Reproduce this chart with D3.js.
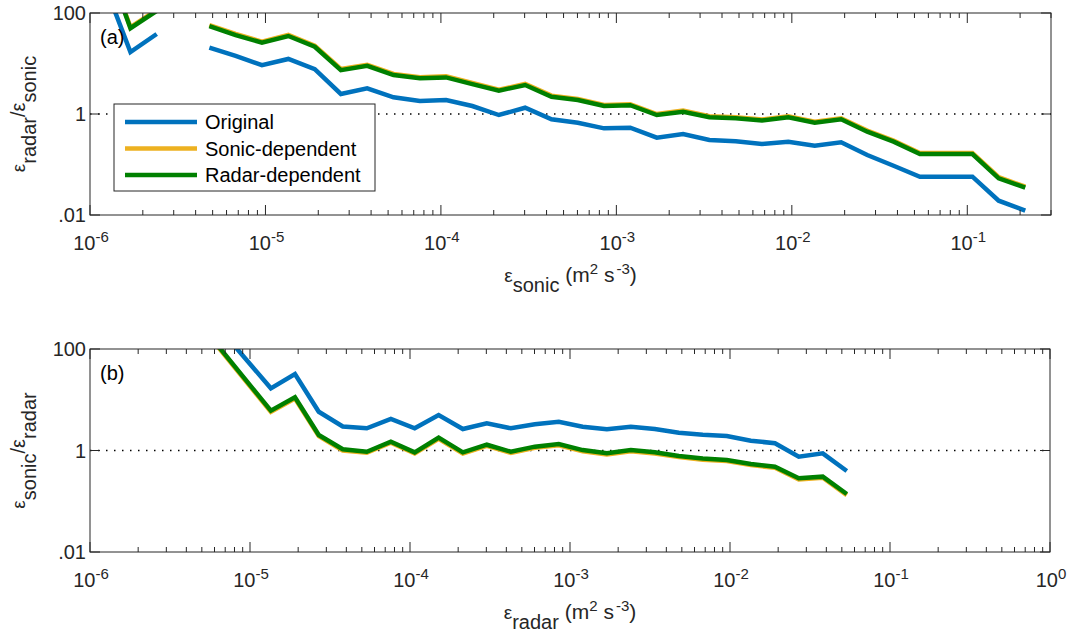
<!DOCTYPE html>
<html>
<head>
<meta charset="utf-8">
<script src="https://cdn.jsdelivr.net/npm/d3@7"></script>
<style>
  body { margin: 0; background: #fff; }
  svg { display: block; font-family: "Liberation Sans", Arial, sans-serif; }
</style>
</head>
<body>
<div id="chart"></div>
<script>
// Panel (a): ratio vs sonic dissipation, binned
var binsA = [1.20e-6, 1.70e-6, 2.40e-6, 3.39e-6, 4.79e-6, 6.76e-6, 9.55e-6, 1.35e-5, 1.91e-5,
  2.69e-5, 3.80e-5, 5.37e-5, 7.59e-5, 1.07e-4, 1.51e-4, 2.14e-4, 3.02e-4, 4.27e-4, 6.03e-4,
  8.51e-4, 1.20e-3, 1.70e-3, 2.40e-3, 3.39e-3, 4.79e-3, 6.76e-3, 9.55e-3, 1.35e-2, 1.91e-2,
  2.69e-2, 3.80e-2, 5.37e-2, 7.59e-2, 0.107, 0.151, 0.214];
var originalA = [400, 16.9, 38.4, null, 20.6, 14.1, 9.3, 12.3, 7.7, 2.49, 3.23, 2.14, 1.81, 1.89,
  1.44, 0.955, 1.33, 0.785, 0.67, 0.52, 0.535, 0.34, 0.40, 0.305, 0.29, 0.255, 0.283, 0.236,
  0.275, 0.154, 0.0946, 0.0573, 0.0573, 0.0573, 0.0192, 0.0122];
var sonicDepA = [1470, 52.5, 115, null, 57.8, 38.4, 27.1, 36.8, 22.6, 7.8, 9.45, 6.2, 5.36, 5.57,
  4.1, 3.03, 3.94, 2.31, 1.98, 1.51, 1.56, 1.0, 1.17, 0.9, 0.86, 0.78, 0.9, 0.70, 0.82, 0.47,
  0.297, 0.169, 0.169, 0.169, 0.056, 0.0364];
var radarDepA = [1400, 50, 110, null, 55, 36.6, 25.8, 35, 21.5, 7.4, 9.0, 5.9, 5.1, 5.3, 3.9,
  2.89, 3.75, 2.2, 1.89, 1.44, 1.49, 0.955, 1.11, 0.86, 0.82, 0.74, 0.86, 0.67, 0.785, 0.447,
  0.283, 0.161, 0.161, 0.161, 0.0533, 0.0347];

// Panel (b): inverse ratio vs radar dissipation
var binsB = [4.79e-6, 1.35e-5, 1.91e-5, 2.69e-5, 3.80e-5, 5.37e-5, 7.59e-5, 1.07e-4, 1.51e-4,
  2.14e-4, 3.02e-4, 4.27e-4, 6.03e-4, 8.51e-4, 1.20e-3, 1.70e-3, 2.40e-3, 3.39e-3, 4.79e-3,
  6.76e-3, 9.55e-3, 1.35e-2, 1.91e-2, 2.69e-2, 3.80e-2, 5.37e-2];
var originalB = [760, 16.8, 32.1, 5.8, 2.97, 2.74, 4.18, 2.74, 5.0, 2.65, 3.44, 2.74, 3.28, 3.69,
  2.94, 2.62, 2.94, 2.65, 2.24, 2.05, 1.93, 1.56, 1.39, 0.755, 0.88, 0.394];
var sonicDepB = [319, 5.78, 10.6, 1.92, 1.0, 0.9, 1.42, 0.874, 1.7, 0.874, 1.24, 0.9, 1.13, 1.27,
  0.97, 0.836, 0.97, 0.874, 0.74, 0.66, 0.62, 0.515, 0.456, 0.27, 0.29, 0.132];
var radarDepB = [336, 6.08, 11.2, 2.02, 1.06, 0.946, 1.49, 0.92, 1.79, 0.92, 1.30, 0.946, 1.19,
  1.34, 1.02, 0.88, 1.02, 0.92, 0.78, 0.695, 0.65, 0.542, 0.48, 0.284, 0.305, 0.139];

var seriesNames = ['Original', 'Sonic-dependent', 'Radar-dependent'];
var seriesColors = ['#0072bd', '#edb120', '#008000'];
var yTickValues = [0.01, 1, 100];
var yTickLabels = ['.01', '1', '100'];

var axisColor = '#262626';
var width = 1067;
var height = 635;

var svg = d3.select('#chart').append('svg')
  .attr('width', width)
  .attr('height', height);

// parts: [{t: text, k: 'sub'|'sup'|undefined, size}]
function richText(sel, parts, baseSize, subShift) {
  var shift = 0;
  parts.forEach(function(p) {
    var target = p.k === 'sub' ? (subShift || 10) : p.k === 'sup' ? -8 : 0;
    sel.append('tspan')
      .attr('dy', target - shift)
      .attr('dx', p.dx || 0)
      .style('font-size', (p.size || baseSize) + 'px')
      .text(p.t);
    shift = target;
  });
}

function drawPanel(p) {
  var x = d3.scaleLog().domain(p.xDomain).range([p.left, p.right]);
  var y = d3.scaleLog().domain([0.01, 100]).range([p.bottom, p.top]);

  var g = svg.append('g');

  g.append('clipPath').attr('id', p.id + '-clip')
    .append('rect')
    .attr('x', p.left).attr('y', p.top)
    .attr('width', p.right - p.left).attr('height', p.bottom - p.top);

  // Dotted reference line at ratio 1
  g.append('line')
    .attr('x1', p.left).attr('x2', p.right)
    .attr('y1', y(1)).attr('y2', y(1))
    .attr('stroke', '#000')
    .attr('stroke-width', 1.3)
    .attr('stroke-dasharray', '1.5,6.5');

  var line = d3.line()
    .defined(function(d) { return d[1] != null; })
    .x(function(d) { return x(d[0]); })
    .y(function(d) { return y(d[1]); });

  var plot = g.append('g').attr('clip-path', 'url(#' + p.id + '-clip)');
  p.series.forEach(function(vals, i) {
    plot.append('path')
      .datum(p.bins.map(function(b, j) { return [b, vals[j]]; }))
      .attr('fill', 'none')
      .attr('stroke', seriesColors[i])
      .attr('stroke-width', 4.5)
      .attr('stroke-linejoin', 'miter')
      .attr('d', line);
  });

  // Box
  g.append('rect')
    .attr('x', p.left).attr('y', p.top)
    .attr('width', p.right - p.left).attr('height', p.bottom - p.top)
    .attr('fill', 'none')
    .attr('stroke', axisColor)
    .attr('stroke-width', 1);

  // x ticks, drawn inward on top and bottom
  var xt = x.ticks();
  xt.forEach(function(v) {
    var lg = Math.log10(v);
    var major = Math.abs(lg - Math.round(lg)) < 1e-6;
    var len = major ? 10 : 5;
    var px = x(v);
    g.append('line').attr('x1', px).attr('x2', px)
      .attr('y1', p.bottom).attr('y2', p.bottom - len)
      .attr('stroke', axisColor);
    g.append('line').attr('x1', px).attr('x2', px)
      .attr('y1', p.top).attr('y2', p.top + len)
      .attr('stroke', axisColor);
    if (major) {
      var t = g.append('text')
        .attr('x', px + 1)
        .attr('y', p.bottom + 35)
        .attr('text-anchor', 'middle')
        .attr('fill', axisColor);
      richText(t, [{t: '10'}, {t: String(Math.round(lg)), k: 'sup', size: 15}], 20);
    }
  });

  // y ticks
  yTickValues.forEach(function(v, i) {
    var py = y(v);
    g.append('line').attr('x1', p.left).attr('x2', p.left + 10)
      .attr('y1', py).attr('y2', py).attr('stroke', axisColor);
    g.append('line').attr('x1', p.right).attr('x2', p.right - 10)
      .attr('y1', py).attr('y2', py).attr('stroke', axisColor);
    g.append('text')
      .attr('x', p.left - 4)
      .attr('y', py + 7)
      .attr('text-anchor', 'end')
      .attr('fill', axisColor)
      .style('font-size', '20px')
      .text(yTickLabels[i]);
  });

  // Panel letter
  g.append('text')
    .attr('x', p.left + 10)
    .attr('y', p.top + 31)
    .attr('fill', '#000')
    .style('font-size', '20px')
    .text(p.letter);

  // x title
  var xt2 = g.append('text')
    .attr('x', (p.left + p.right) / 2)
    .attr('y', p.bottom + 67)
    .attr('text-anchor', 'middle')
    .attr('fill', axisColor);
  richText(xt2, [
    {t: '\u03b5', size: 19},
    {t: p.xSub, k: 'sub', size: 20},
    {t: ' (m'},
    {t: '2', k: 'sup', size: 15},
    {t: ' s'},
    {t: '-3', k: 'sup', size: 15, dx: 2},
    {t: ')'}
  ], 21, 10);

  // y title
  var yt = g.append('text')
    .attr('transform', 'translate(' + (p.left - 65) + ',' + ((p.top + p.bottom) / 2) + ') rotate(-90)')
    .attr('text-anchor', 'middle')
    .attr('fill', axisColor);
  richText(yt, [
    {t: '\u03b5', size: 19},
    {t: p.ySubs[0], k: 'sub', size: 20},
    {t: '/\u03b5', size: 20},
    {t: p.ySubs[1], k: 'sub', size: 20}
  ], 21, 11);

  return g;
}

drawPanel({
  id: 'pa', letter: '(a)',
  left: 90, right: 1051, top: 13, bottom: 215,
  xDomain: [1e-6, 0.3],
  bins: binsA,
  series: [originalA, sonicDepA, radarDepA],
  xSub: 'sonic', ySubs: ['radar', 'sonic']
});

drawPanel({
  id: 'pb', letter: '(b)',
  left: 90, right: 1050, top: 349, bottom: 552,
  xDomain: [1e-6, 1],
  bins: binsB,
  series: [originalB, sonicDepB, radarDepB],
  xSub: 'radar', ySubs: ['sonic', 'radar']
});

// Legend (panel a only)
var legend = svg.append('g').attr('transform', 'translate(114, 104)');
legend.append('rect')
  .attr('width', 261).attr('height', 87)
  .attr('fill', '#fff')
  .attr('stroke', axisColor)
  .attr('stroke-width', 1);
seriesNames.forEach(function(name, i) {
  var cy = 18 + i * 26.5;
  legend.append('line')
    .attr('x1', 11).attr('x2', 83)
    .attr('y1', cy).attr('y2', cy)
    .attr('stroke', seriesColors[i])
    .attr('stroke-width', 4.5);
  legend.append('text')
    .attr('x', 91).attr('y', cy + 7)
    .attr('fill', '#000')
    .style('font-size', '20px')
    .text(name);
});
</script>
</body>
</html>
